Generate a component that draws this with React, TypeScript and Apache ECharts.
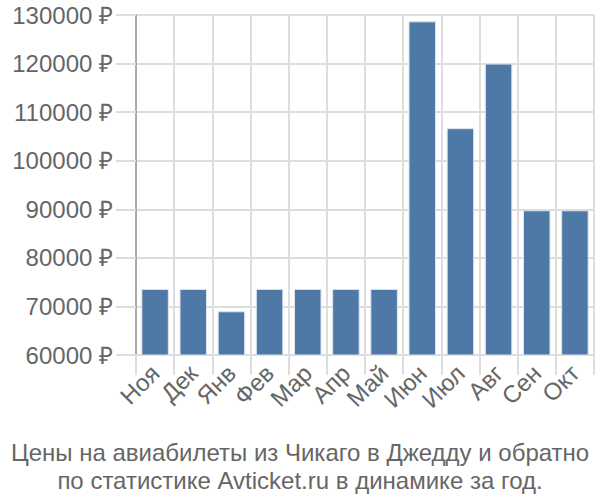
import React, { useEffect, useRef } from "react";
import * as echarts from "echarts";

const categories = ["Ноя", "Дек", "Янв", "Фев", "Мар", "Апр", "Май", "Июн", "Июл", "Авг", "Сен", "Окт"];
const prices = [73600, 73600, 69000, 73600, 73600, 73600, 73600, 128700, 106700, 120000, 89800, 89800];
const yMin = 60000;
const yMax = 130000;
const yStep = 10000;
const titleLines = [
  "Цены на авиабилеты из Чикаго в Джедду и обратно",
  "по статистике Avticket.ru в динамике за год.",
];

export default function App() {
  const ref = useRef<HTMLDivElement>(null);
  useEffect(() => {
    if (!ref.current) return;
    const chart = echarts.init(ref.current, undefined, { renderer: "svg" });
    const font = "'Liberation Sans', Arial, sans-serif";
    chart.setOption({
      animation: false,
      title: {
        text: titleLines.join("\n"),
        left: "center",
        top: 433,
        textStyle: { fontSize: 24, fontWeight: "normal", color: "#666", fontFamily: font, lineHeight: 28 },
      },
      grid: { left: 136, right: 6, top: 15, bottom: 145 },
      xAxis: {
        type: "category",
        data: categories,
        axisLine: { show: true, lineStyle: { color: "#ddd", width: 2 } },
        axisTick: { show: true, length: 20, lineStyle: { color: "#ddd", width: 2 } },
        splitLine: { show: true, lineStyle: { color: "#ddd", width: 2 } },
        axisLabel: { rotate: 45, fontSize: 24, color: "#666", fontFamily: font, margin: 14, interval: 0 },
      },
      yAxis: {
        type: "value",
        min: yMin,
        max: yMax,
        interval: yStep,
        axisLine: { show: true, lineStyle: { color: "#aaa", width: 2 } },
        axisTick: { show: true, length: 20, lineStyle: { color: "#ddd", width: 2 } },
        splitLine: { show: true, lineStyle: { color: "#ddd", width: 2 } },
        axisLabel: { fontSize: 24, color: "#666", fontFamily: font, margin: 23, formatter: (v: number) => v + " ₽" },
      },
      series: [
        {
          type: "bar",
          data: prices,
          barCategoryGap: "28%",
          itemStyle: { color: "#4e78a6", borderColor: "#dde5ee", borderWidth: 1 },
        },
      ],
    });
    return () => chart.dispose();
  }, []);
  return <div ref={ref} style={{ width: 600, height: 500, position: "absolute", left: 0, top: 0 }} />;
}
